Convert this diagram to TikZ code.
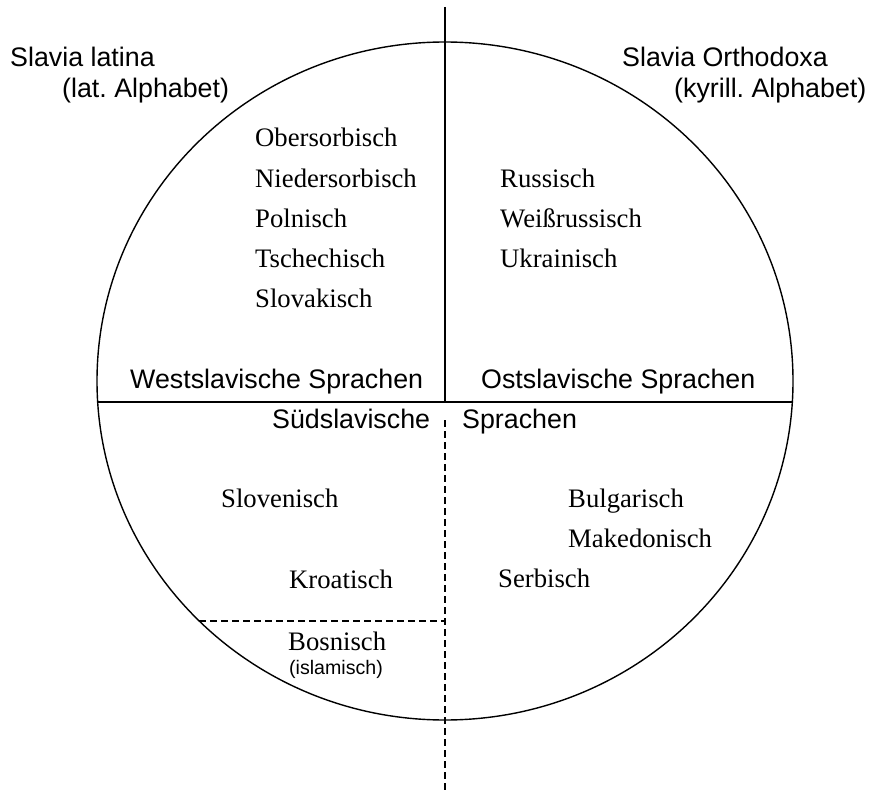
\documentclass[tikz,border=0pt]{standalone}
\usepackage{fontspec}
\setmainfont{Liberation Serif}
\setsansfont{Liberation Sans}
\frenchspacing
\begin{document}
\begin{tikzpicture}[x=1pt,y=-1pt,
  lang/.style={anchor=base west, inner sep=0pt, font=\fontsize{26.7}{30}\selectfont},
  group/.style={anchor=base west, inner sep=0pt, font=\sffamily\fontsize{26.8}{30}\selectfont},
  note/.style={anchor=base west, inner sep=0pt, font=\sffamily\fontsize{19.6}{22}\selectfont},
  rule/.style={line width=1.4pt},
  dashrule/.style={line width=1.4pt, dash pattern=on 7pt off 4pt}]
\useasboundingbox (0,0) rectangle (869,791);

% circle of the Slavic languages
\coordinate (centre) at (445,381);
\draw[rule] (centre) ellipse [x radius=348, y radius=339];

% dividing lines
\coordinate (top) at (445,7);
\coordinate (mid) at (445,402);
\coordinate (midW) at (97.7,402);
\coordinate (midE) at (792.3,402);
\coordinate (dashstart) at (445,420);
\coordinate (bottom) at (445,791);
\coordinate (bosW) at (199,621);
\coordinate (bosE) at (445,621);
\draw[rule] (top) -- (mid);
\draw[rule] (midW) -- (midE);
\draw[dashrule] (dashstart) -- (bottom);
\draw[dashrule] (bosW) -- (bosE);

% cultural spheres
\node[group] (latina) at (10,67) {Slavia latina};
\node[group] (latalph) at (62,98) {(lat. Alphabet)};
\node[group] (ortho) at (622,67) {Slavia Orthodoxa};
\node[group] (kyralph) at (674,98) {(kyrill. Alphabet)};

% West Slavic
\node[lang] (obs) at (255,147) {Obersorbisch};
\node[lang] (nds) at (255,188) {Niedersorbisch};
\node[lang] (pol) at (255,228) {Polnisch};
\node[lang] (tsch) at (255,268) {Tschechisch};
\node[lang] (slk) at (255,308) {Slovakisch};

% East Slavic
\node[lang] (rus) at (500,188) {Russisch};
\node[lang] (wrus) at (500,228) {Weißrussisch};
\node[lang] (ukr) at (500,268) {Ukrainisch};

% group names
\node[group] (west) at (130,388) {Westslavische Sprachen};
\node[group] (east) at (481,388) {Ostslavische Sprachen};
\node[group] (sued) at (272,428) {Südslavische};
\node[group] (sprachen) at (462,428) {Sprachen};

% South Slavic
\node[lang] (slv) at (221,507) {Slovenisch};
\node[lang] (kro) at (289,588) {Kroatisch};
\node[lang] (bul) at (568,507) {Bulgarisch};
\node[lang] (mak) at (568,547) {Makedonisch};
\node[lang] (srb) at (498,587) {Serbisch};
\node[lang] (bos) at (288,650) {Bosnisch};
\node[note] (isl) at (289,674) {(islamisch)};
\end{tikzpicture}
\end{document}
